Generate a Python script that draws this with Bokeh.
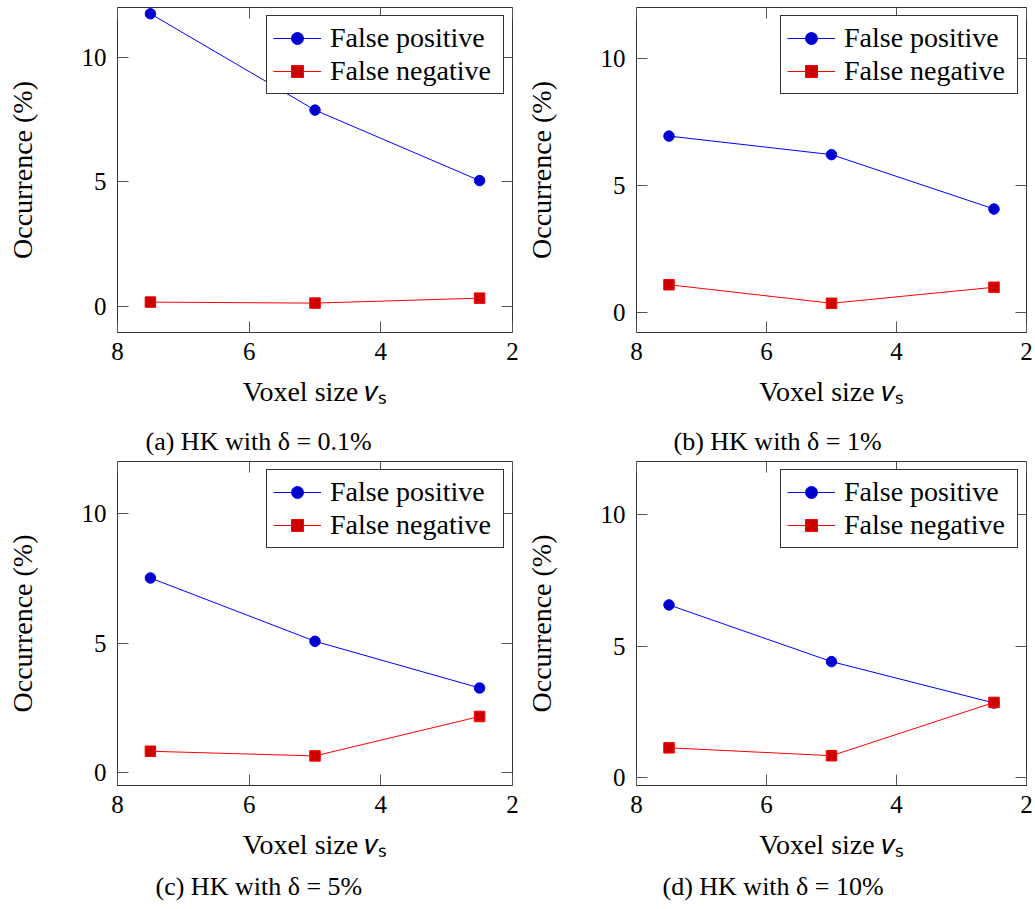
from bokeh.plotting import figure
from bokeh.models import (Range1d, LinearAxis, FixedTicker, Legend, LegendItem,
                          Title, CustomLabelingPolicy)
from bokeh.layouts import column, row
from bokeh.embed import file_html
from bokeh.resources import INLINE

# ---- data ----
voxel_size = [7.5, 5.0, 2.5]

fp_a = [11.75, 7.88, 5.05]
fn_a = [0.17, 0.13, 0.33]
fp_b = [6.94, 6.21, 4.07]
fn_b = [1.09, 0.36, 0.99]
fp_c = [7.51, 5.07, 3.27]
fn_c = [0.83, 0.65, 2.17]
fp_d = [6.56, 4.41, 2.84]
fn_d = [1.14, 0.84, 2.86]

captions = ["(a) HK with δ = 0.1%", "(b) HK with δ = 1%",
            "(c) HK with δ = 5%", "(d) HK with δ = 10%"]
series_labels = ["False positive", "False negative"]
x_ticks = [8, 6, 4, 2]
y_ticks = [0, 5, 10]
y_mins = [-1.05, -0.79, -0.49, -0.29]
y_max = 12.0

FONT = "Liberation Serif"
FRAME = "#333333"
TICK = "#555555"

HIDE = CustomLabelingPolicy(code="for (const i of indices) { indices.unset(i) }\nreturn indices")


def style_axis(ax, ticks, show_labels=True):
    ax.ticker = FixedTicker(ticks=ticks)
    ax.axis_line_color = None
    ax.major_tick_in = 11
    ax.major_tick_out = 0
    ax.major_tick_line_color = TICK
    ax.major_tick_line_width = 1
    ax.minor_tick_line_color = None
    if show_labels:
        ax.major_label_text_font = FONT
        ax.major_label_text_font_size = "25px"
        ax.major_label_text_font_style = "normal"
        ax.major_label_text_color = "black"
    else:
        ax.major_label_text_font_size = "1px"
        ax.major_label_standoff = 0
        ax.major_label_policy = HIDE
        ax.axis_label = None


def make_panel(fp, fn, ymin, caption, width, height, mleft, mtop, mright, frame_h,
               cap_offset, cap_standoff):
    mbottom = height - mtop - frame_h
    p = figure(width=width, height=height, title=None,
               x_range=Range1d(8, 2), y_range=Range1d(ymin, y_max),
               output_backend="svg", toolbar_location=None,
               min_border_left=mleft, min_border_right=mright,
               min_border_top=mtop, min_border_bottom=mbottom)
    p.xgrid.visible = False
    p.ygrid.visible = False
    p.outline_line_color = FRAME
    p.outline_line_width = 1
    p.outline_line_alpha = 1
    p.background_fill_color = "white"
    p.border_fill_color = None

    xa = p.xaxis[0]
    ya = p.yaxis[0]
    style_axis(xa, x_ticks)
    style_axis(ya, y_ticks)
    xa.major_label_standoff = 10
    ya.major_label_standoff = 11
    xa.axis_label = "Voxel size 𝑣ₛ"
    ya.axis_label = "Occurrence (%)"
    for ax in (xa, ya):
        ax.axis_label_text_font = FONT
        ax.axis_label_text_font_size = "28px"
        ax.axis_label_text_font_style = "normal"
        ax.axis_label_text_color = "black"
    xa.axis_label_standoff = 13
    ya.axis_label_standoff = 41

    top = LinearAxis()
    style_axis(top, x_ticks, show_labels=False)
    p.add_layout(top, "above")
    right = LinearAxis()
    style_axis(right, y_ticks, show_labels=False)
    p.add_layout(right, "right")

    l1 = p.line(voxel_size, fp, line_color="#0000ff", line_width=1)
    s1 = p.scatter(voxel_size, fp, marker="circle", size=10.5,
                   fill_color="#0000cc", line_color="#0000ff", line_width=1)
    l2 = p.line(voxel_size, fn, line_color="#ff0000", line_width=1)
    s2 = p.scatter(voxel_size, fn, marker="square", size=10.5,
                   fill_color="#cc0000", line_color="#ff0000", line_width=1)

    legend = Legend(items=[LegendItem(label=series_labels[0], renderers=[l1, s1]),
                           LegendItem(label=series_labels[1], renderers=[l2, s2])],
                    location="top_right", margin=8, padding=6, spacing=1,
                    glyph_width=48, glyph_height=30, label_height=30,
                    label_width=167, label_standoff=9, label_text_font=FONT,
                    label_text_font_style="normal",
                    label_text_font_size="28px", label_text_color="black",
                    border_line_color=FRAME, border_line_width=1,
                    border_line_alpha=1, background_fill_color="white",
                    background_fill_alpha=1)
    p.add_layout(legend)

    cap = Title(text=caption, align="left", offset=cap_offset,
                vertical_align="bottom", standoff=cap_standoff,
                text_font=FONT, text_font_size="26px",
                text_font_style="normal", text_color="black")
    p.add_layout(cap, "below")
    return p


pa = make_panel(fp_a, fn_a, y_mins[0], captions[0], 522, 472, 117, 7, 10, 325, 28, 31)
pb = make_panel(fp_b, fn_b, y_mins[1], captions[1], 513, 472, 109, 7, 9, 325, 37, 31)
pc = make_panel(fp_c, fn_c, y_mins[2], captions[2], 522, 454, 117, 6, 10, 324, 38, 15)
pd = make_panel(fp_d, fn_d, y_mins[3], captions[3], 513, 454, 109, 6, 9, 324, 26, 15)

layout = column(row(pa, pb, margin=(0, 0, -17, 0)), row(pc, pd))

with open("out.html", "w") as f:
    f.write(file_html(layout, INLINE))
